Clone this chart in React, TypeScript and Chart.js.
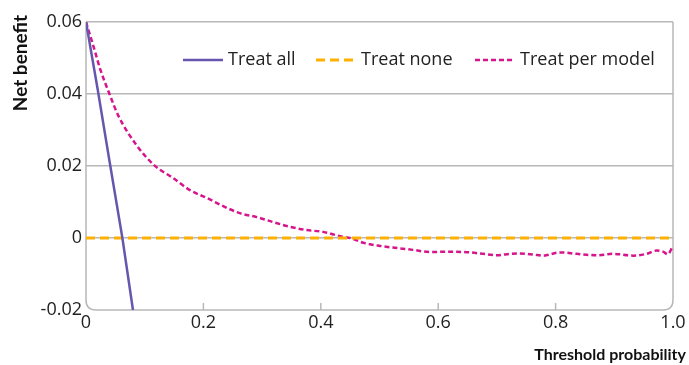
import React, { useEffect, useRef } from "react";
import { Chart, registerables } from "chart.js";

Chart.register(...registerables);

const treatAllX = [0, 0.02, 0.04, 0.062, 0.08];
const treatAllY = [0.06, 0.0412, 0.0214, 0, -0.02];
const treatNoneX = [0, 1];
const treatNoneY = [0, 0];
const modelX = [0, 0.015, 0.024, 0.04, 0.055, 0.086, 0.117, 0.148, 0.177, 0.206, 0.233, 0.262, 0.291, 0.319, 0.348, 0.376, 0.404, 0.433, 0.45, 0.472, 0.501, 0.53, 0.557, 0.586, 0.615, 0.654, 0.676, 0.7, 0.717, 0.739, 0.762, 0.779, 0.807, 0.836, 0.87, 0.898, 0.932, 0.955, 0.972, 0.983, 0.991, 1.0];
const modelY = [0.06, 0.052, 0.047, 0.04, 0.034, 0.0258, 0.0201, 0.0167, 0.0133, 0.0111, 0.0089, 0.0069, 0.0058, 0.0044, 0.0031, 0.0022, 0.0017, 0.0005, 0, -0.0013, -0.0022, -0.0028, -0.0033, -0.0039, -0.0038, -0.004, -0.0044, -0.0048, -0.0045, -0.0043, -0.0046, -0.0049, -0.004, -0.0044, -0.0048, -0.0044, -0.0049, -0.0044, -0.0035, -0.0038, -0.0045, -0.0022];
const xTicks = [0, 0.2, 0.4, 0.6, 0.8, 1.0];
const yTicks = [-0.02, 0, 0.02, 0.04, 0.06];
const seriesNames = ["Treat all", "Treat none", "Treat per model"];
const xTitle = "Threshold probability";
const yTitle = "Net benefit";

const FONT = "'Open Sans', 'Noto Sans', sans-serif";
const TITLE_FONT = "Lato, 'Open Sans', sans-serif";
const PURPLE = "#6756ae";
const ORANGE = "#ffb000";
const MAGENTA = "#d6158c";
const GRID = "#b8b8b8";

const pts = (xs: number[], ys: number[]) => xs.map((x, i) => ({ x, y: ys[i] }));

const framePlugin = {
  id: "frame",
  beforeDatasetsDraw(chart: any) {
    const { ctx, chartArea } = chart;
    const { left, right, top, bottom } = chartArea;
    const xs = chart.scales.x;
    const r = 10;
    ctx.save();
    ctx.strokeStyle = GRID;
    ctx.lineWidth = 1.5;
    ctx.beginPath();
    ctx.moveTo(left, top);
    ctx.lineTo(left, bottom - r);
    ctx.quadraticCurveTo(left, bottom, left + r, bottom);
    ctx.lineTo(right - r, bottom);
    ctx.quadraticCurveTo(right, bottom, right, bottom - r);
    ctx.lineTo(right, top);
    ctx.stroke();
    ctx.beginPath();
    for (const v of xTicks.slice(1, -1)) {
      const px = xs.getPixelForValue(v);
      ctx.moveTo(px, bottom);
      ctx.lineTo(px, bottom - 7);
    }
    ctx.stroke();
    ctx.restore();
  },
};

const legendPlugin = {
  id: "insideLegend",
  afterDatasetsDraw(chart: any) {
    const { ctx, chartArea } = chart;
    const y = chartArea.top + 38;
    const items = [
      { x: 183, color: PURPLE, dash: [] as number[], w: 2.5 },
      { x: 316, color: ORANGE, dash: [9, 5], w: 3 },
      { x: 475, color: MAGENTA, dash: [5, 3], w: 2.5 },
    ];
    ctx.save();
    ctx.font = `18px ${FONT}`;
    ctx.textBaseline = "middle";
    ctx.textAlign = "left";
    items.forEach((it, i) => {
      ctx.strokeStyle = it.color;
      ctx.lineWidth = it.w;
      ctx.setLineDash(it.dash);
      ctx.beginPath();
      ctx.moveTo(it.x, y);
      ctx.lineTo(it.x + 40, y);
      ctx.stroke();
      ctx.setLineDash([]);
      ctx.fillStyle = "#222";
      ctx.fillText(seriesNames[i], it.x + 45, y);
    });
    // axis titles
    ctx.fillStyle = "#111";
    ctx.font = `bold 16px ${TITLE_FONT}`;
    ctx.textAlign = "right";
    ctx.textBaseline = "middle";
    ctx.fillText(xTitle, 686, 355);
    ctx.font = `bold 19px ${TITLE_FONT}`;
    ctx.save();
    ctx.translate(21, 15);
    ctx.rotate(-Math.PI / 2);
    ctx.fillText(yTitle, 0, 0);
    ctx.restore();
    ctx.restore();
  },
};

export default function App() {
  const ref = useRef<HTMLCanvasElement>(null);
  useEffect(() => {
    document.body.style.margin = "0";
    const chart = new Chart(ref.current!, {
      type: "line",
      data: {
        datasets: [
          {
            label: seriesNames[0],
            data: pts(treatAllX, treatAllY),
            borderColor: PURPLE,
            borderWidth: 2.5,
            pointRadius: 0,
          },
          {
            label: seriesNames[1],
            data: pts(treatNoneX, treatNoneY),
            borderColor: ORANGE,
            borderWidth: 3,
            borderDash: [9, 5],
            pointRadius: 0,
          },
          {
            label: seriesNames[2],
            data: pts(modelX, modelY),
            borderColor: MAGENTA,
            borderWidth: 2.5,
            borderDash: [5, 3],
            pointRadius: 0,
            cubicInterpolationMode: "monotone",
          },
        ],
      },
      options: {
        animation: false,
        responsive: false,
        maintainAspectRatio: false,
        layout: { padding: { top: 22, right: 16, left: 0, bottom: 0 } },
        plugins: { legend: { display: false }, tooltip: { enabled: false } },
        scales: {
          x: {
            type: "linear",
            min: 0,
            max: 1,
            afterBuildTicks: (s: any) => {
              s.ticks = xTicks.map((v) => ({ value: v }));
            },
            afterFit: (s: any) => {
              s.height = 55;
            },
            ticks: {
              color: "#222",
              font: { family: FONT, size: 18 },
              padding: 2,
              maxRotation: 0,
              callback: (v: any) => (v === 1 ? "1.0" : String(v)),
            },
            grid: { display: false, drawTicks: false },
            border: { display: false },
          },
          y: {
            min: -0.02,
            max: 0.06,
            afterBuildTicks: (s: any) => {
              s.ticks = yTicks.map((v) => ({ value: v }));
            },
            afterFit: (s: any) => {
              s.width = 86;
            },
            ticks: {
              color: "#222",
              font: { family: FONT, size: 18 },
              padding: 4,
              callback: (v: any) => (v === 0 ? "0" : Number(v).toFixed(2)),
            },
            grid: {
              color: (c: any) => (c.tick && c.tick.value === -0.02 ? "rgba(0,0,0,0)" : GRID),
              lineWidth: 1.5,
              drawTicks: false,
            },
            border: { display: false },
          },
        },
      },
      plugins: [framePlugin, legendPlugin],
    });
    return () => chart.destroy();
  }, []);
  return <canvas ref={ref} width={689} height={365} style={{ display: "block" }} />;
}
